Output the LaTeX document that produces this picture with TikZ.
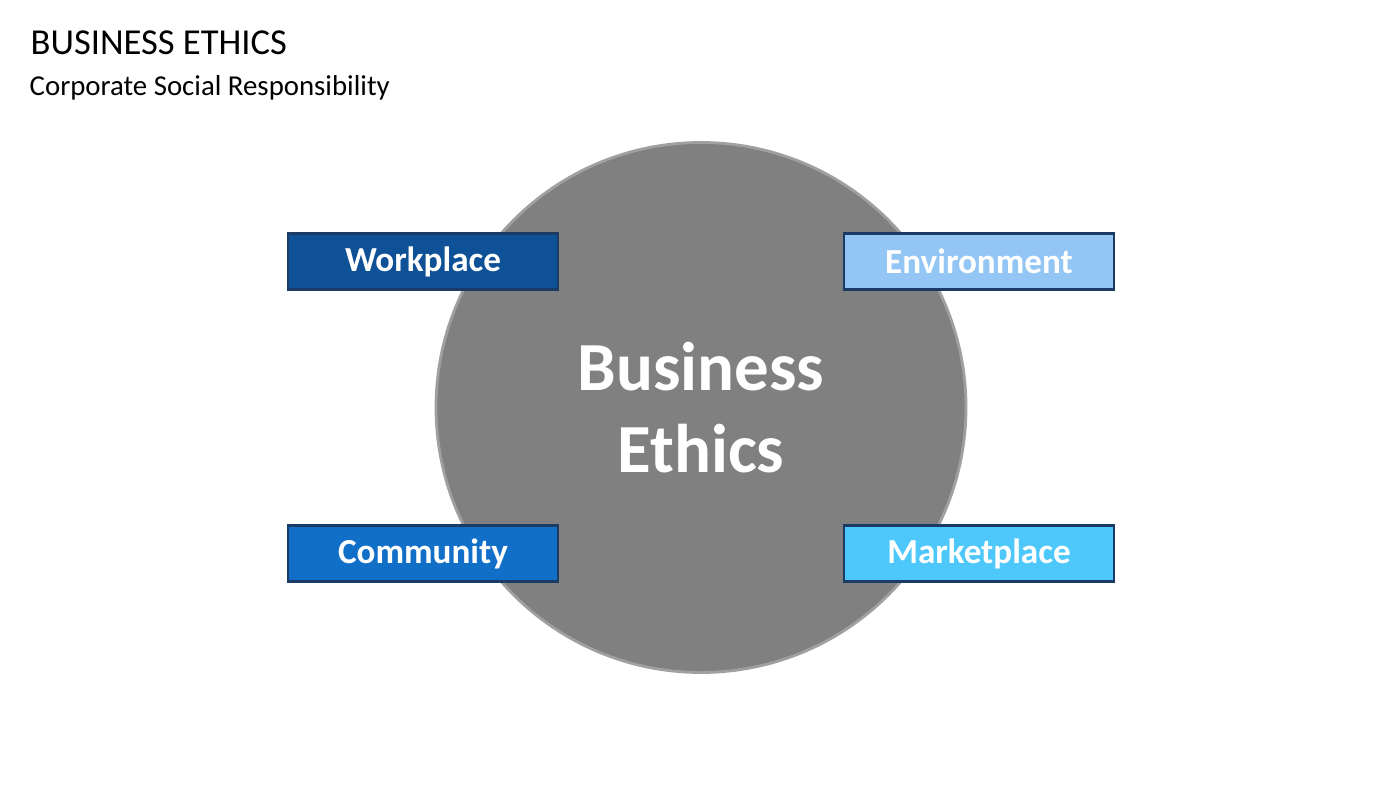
\documentclass[tikz,border=0pt]{standalone}
\usepackage{fontspec}
\setmainfont{Carlito}
\usetikzlibrary{positioning}
\definecolor{workblue}{RGB}{15,81,150}
\definecolor{envblue}{RGB}{147,198,245}
\definecolor{commblue}{RGB}{17,111,200}
\definecolor{marketblue}{RGB}{78,200,250}
\definecolor{edgeblue}{RGB}{27,58,100}
\definecolor{discgray}{RGB}{128,128,128}
\definecolor{rimgray}{RGB}{160,160,160}
\begin{document}
\begin{tikzpicture}[node distance=1.46cm and 2.78cm, on grid,
    area node/.style={rectangle,draw=edgeblue,line width=0.6pt,minimum width=2.7cm,minimum height=0.56cm,inner sep=0pt,text=white,font=\fontsize{10}{12}\selectfont\bfseries}]
  \useasboundingbox (0,0) rectangle (14,7.88);

  \node[anchor=base west,inner sep=0pt,font=\fontsize{10.4}{12}\selectfont] (title) at (0.30,7.33) {BUSINESS ETHICS};
  \node[anchor=base west,inner sep=0pt,font=\fontsize{8.2}{10}\selectfont] (subtitle) at (0.29,6.92) {Corporate Social Responsibility};

  \node[circle,fill=discgray,draw=rimgray,line width=0.8pt,minimum size=5.3cm,inner sep=0pt,text=white,align=center,font=\fontsize{19.6}{23.3}\selectfont\bfseries] (be) at (7.01,3.805) {Business\\Ethics};

  \node[area node,fill=workblue] (wp) [above left=of be] {Workplace};
  \node[area node,fill=envblue] (env) [above right=of be] {Environment};
  \node[area node,fill=commblue] (com) [below left=of be] {Community};
  \node[area node,fill=marketblue] (mkt) [below right=of be] {Marketplace};
\end{tikzpicture}
\end{document}
